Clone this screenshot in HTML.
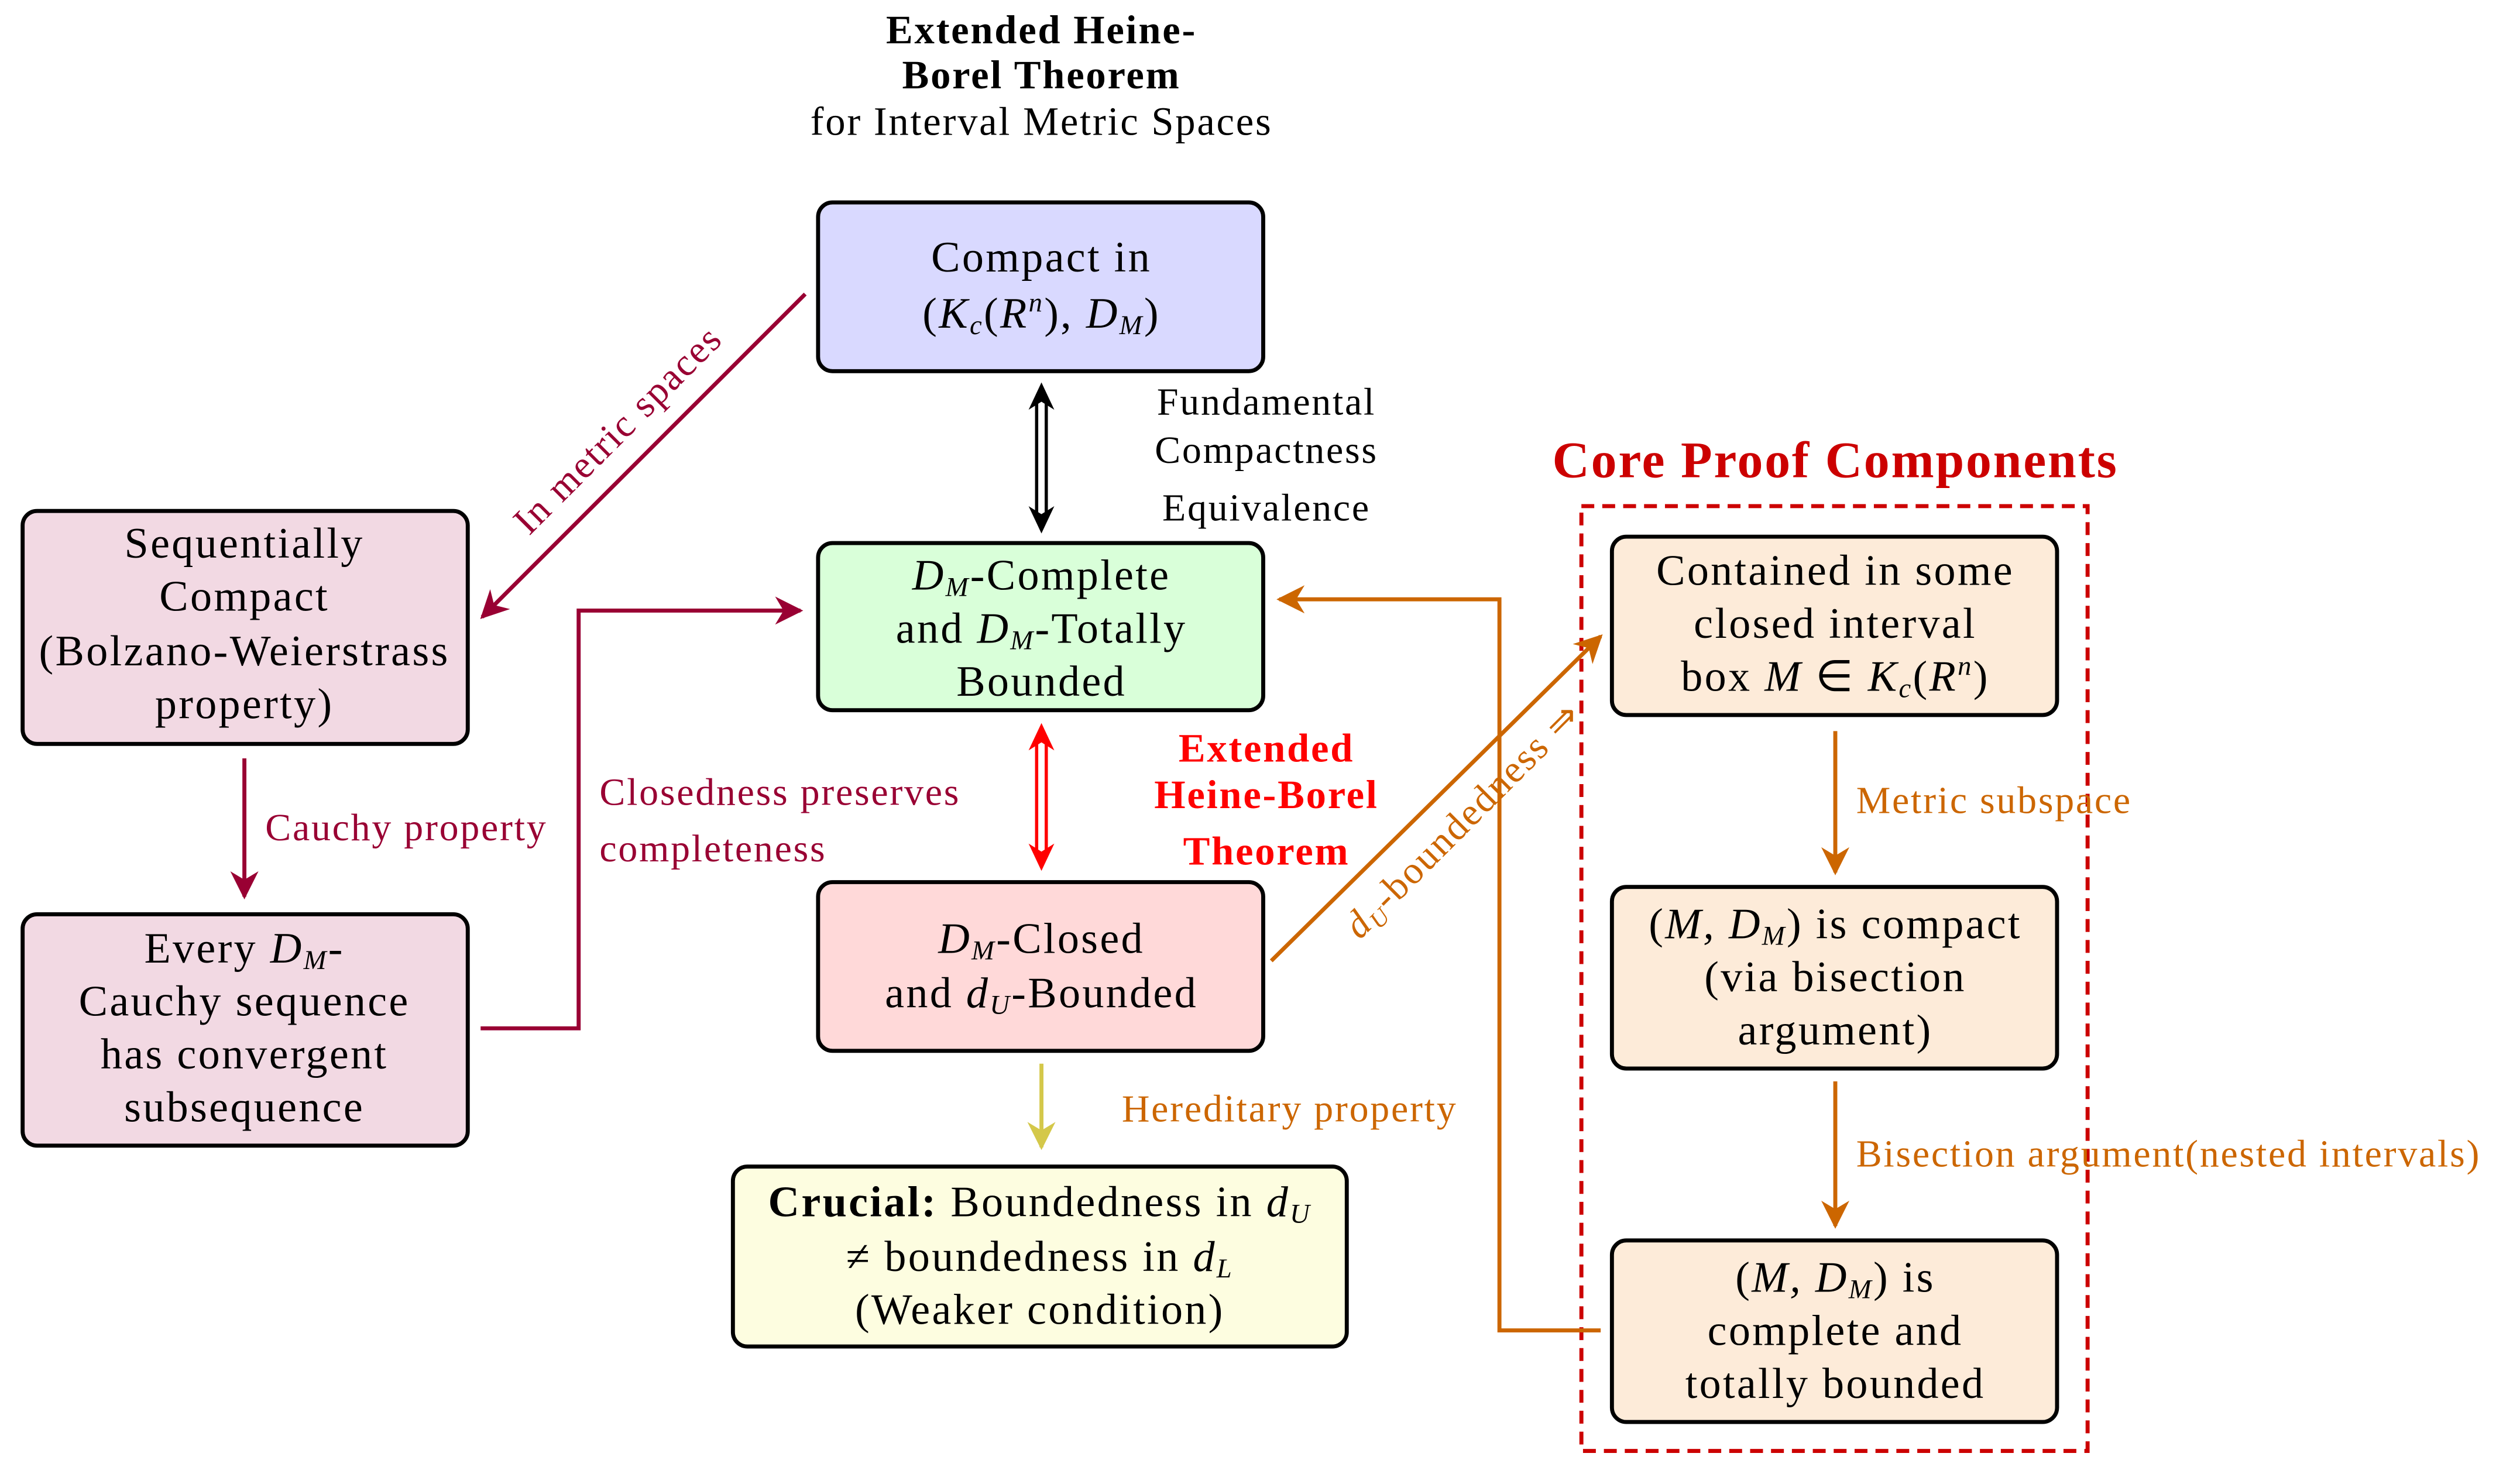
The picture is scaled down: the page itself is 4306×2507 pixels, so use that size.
<!DOCTYPE html>
<html><head><meta charset="utf-8"><style>
html,body{margin:0;padding:0;background:#fff;}
svg{display:block;}
text{font-family:"Liberation Serif",serif;}
</style></head><body>
<svg width="4306" height="2507" viewBox="0 0 1568 913" xmlns="http://www.w3.org/2000/svg">
<defs>
<marker id="am" viewBox="0 0 10 10" refX="9" refY="5" markerWidth="7" markerHeight="7" orient="auto-start-reverse"><path d="M0,0 L10,5 L0,10 L3,5 z" fill="#990033"/></marker>
<marker id="ao" viewBox="0 0 10 10" refX="9" refY="5" markerWidth="7" markerHeight="7" orient="auto-start-reverse"><path d="M0,0 L10,5 L0,10 L3,5 z" fill="#cc6600"/></marker>
<marker id="ay" viewBox="0 0 10 10" refX="9" refY="5" markerWidth="7" markerHeight="7" orient="auto-start-reverse"><path d="M0,0 L10,5 L0,10 L3,5 z" fill="#d4c84a"/></marker>
</defs>

<!-- title -->
<g text-anchor="middle" font-size="25" letter-spacing="1">
<text x="648" y="27" font-weight="bold">Extended Heine-</text>
<text x="648" y="55" font-weight="bold">Borel Theorem</text>
<text x="648" y="84">for Interval Metric Spaces</text>
</g>

<!-- dashed group -->
<rect x="984" y="315" width="315" height="588" fill="none" stroke="#cc0000" stroke-width="2.5" stroke-dasharray="8,5"/>
<text x="1142" y="297" text-anchor="middle" font-size="32" letter-spacing="1" font-weight="bold" fill="#cc0000">Core Proof Components</text>

<!-- boxes -->
<g stroke="#000" stroke-width="2.5">
<rect x="509" y="126" width="277" height="105" rx="9" fill="#d9d9ff"/>
<rect x="509" y="338" width="277" height="104" rx="9" fill="#d9ffd9"/>
<rect x="509" y="549" width="277" height="105" rx="9" fill="#ffd9d9"/>
<rect x="456" y="726" width="382" height="112" rx="9" fill="#fdfde0"/>
<rect x="14" y="318" width="277" height="145" rx="9" fill="#f2d9e3"/>
<rect x="14" y="569" width="277" height="144" rx="9" fill="#f2d9e3"/>
<rect x="1003" y="334" width="277" height="111" rx="9" fill="#fdebd9"/>
<rect x="1003" y="552" width="277" height="113" rx="9" fill="#fdebd9"/>
<rect x="1003" y="772" width="277" height="113" rx="9" fill="#fdebd9"/>
</g>

<g text-anchor="middle" font-size="27" letter-spacing="1.2">
<text x="648" y="169">Compact in</text>
<text x="648" y="204">(<tspan font-style="italic">K</tspan><tspan font-size="17" font-style="italic" dy="4">c</tspan><tspan dy="-4">(</tspan><tspan font-style="italic">R</tspan><tspan font-size="17" font-style="italic" dy="-10">n</tspan><tspan dy="10">), </tspan><tspan font-style="italic">D</tspan><tspan font-size="17" font-style="italic" dy="4">M</tspan><tspan dy="-4">)</tspan></text>

<text x="648" y="367"><tspan font-style="italic">D</tspan><tspan font-size="17" font-style="italic" dy="4">M</tspan><tspan dy="-4">-Complete</tspan></text>
<text x="648" y="400">and <tspan font-style="italic">D</tspan><tspan font-size="17" font-style="italic" dy="4">M</tspan><tspan dy="-4">-Totally</tspan></text>
<text x="648" y="433">Bounded</text>

<text x="648" y="593"><tspan font-style="italic">D</tspan><tspan font-size="17" font-style="italic" dy="4">M</tspan><tspan dy="-4">-Closed</tspan></text>
<text x="648" y="627">and <tspan font-style="italic">d</tspan><tspan font-size="17" font-style="italic" dy="4">U</tspan><tspan dy="-4">-Bounded</tspan></text>

<text x="647" y="757"><tspan font-weight="bold">Crucial:</tspan> Boundedness in <tspan font-style="italic">d</tspan><tspan font-size="17" font-style="italic" dy="4">U</tspan></text>
<text x="647" y="791">≠ boundedness in <tspan font-style="italic">d</tspan><tspan font-size="17" font-style="italic" dy="4">L</tspan></text>
<text x="647" y="824">(Weaker condition)</text>

<text x="152" y="347">Sequentially</text>
<text x="152" y="380">Compact</text>
<text x="152" y="414">(Bolzano-Weierstrass</text>
<text x="152" y="447">property)</text>

<text x="152" y="599">Every <tspan font-style="italic">D</tspan><tspan font-size="17" font-style="italic" dy="4">M</tspan><tspan dy="-4">-</tspan></text>
<text x="152" y="632">Cauchy sequence</text>
<text x="152" y="665">has convergent</text>
<text x="152" y="698">subsequence</text>

<text x="1142" y="364">Contained in some</text>
<text x="1142" y="397">closed interval</text>
<text x="1142" y="430">box <tspan font-style="italic">M</tspan> ∈ <tspan font-style="italic">K</tspan><tspan font-size="17" font-style="italic" dy="4">c</tspan><tspan dy="-4">(</tspan><tspan font-style="italic">R</tspan><tspan font-size="17" font-style="italic" dy="-10">n</tspan><tspan dy="10">)</tspan></text>

<text x="1142" y="584">(<tspan font-style="italic">M, D</tspan><tspan font-size="17" font-style="italic" dy="4">M</tspan><tspan dy="-4">) is compact</tspan></text>
<text x="1142" y="617">(via bisection</text>
<text x="1142" y="650">argument)</text>

<text x="1142" y="804">(<tspan font-style="italic">M, D</tspan><tspan font-size="17" font-style="italic" dy="4">M</tspan><tspan dy="-4">) is</tspan></text>
<text x="1142" y="837">complete and</text>
<text x="1142" y="870">totally bounded</text>
</g>

<!-- double arrows -->
<g fill="none" stroke-width="2">
<line x1="645" y1="250" x2="645" y2="320" stroke="#000"/>
<line x1="651" y1="250" x2="651" y2="320" stroke="#000"/>
<line x1="645" y1="462" x2="645" y2="530" stroke="#ff0000"/>
<line x1="651" y1="462" x2="651" y2="530" stroke="#ff0000"/>
</g>
<path d="M648,238 l-8,17 l8,-5 l8,5 z M648,332 l-8,-17 l8,5 l8,-5 z" fill="#000"/>
<path d="M648,450 l-8,17 l8,-5 l8,5 z M648,542 l-8,-17 l8,5 l8,-5 z" fill="#ff0000"/>

<g text-anchor="middle" font-size="24" letter-spacing="1">
<text x="788" y="258">Fundamental</text>
<text x="788" y="288">Compactness</text>
<text x="788" y="324">Equivalence</text>
</g>
<g text-anchor="middle" font-size="25" letter-spacing="1" font-weight="bold" fill="#ff0000">
<text x="788" y="474">Extended</text>
<text x="788" y="503">Heine-Borel</text>
<text x="788" y="538">Theorem</text>
</g>

<!-- other arrows -->
<g fill="none" stroke-width="2.5">
<line x1="648" y1="662" x2="648" y2="714" stroke="#d4c84a" marker-end="url(#ay)"/>
<line x1="501" y1="183" x2="300" y2="384" stroke="#990033" marker-end="url(#am)"/>
<line x1="152" y1="472" x2="152" y2="558" stroke="#990033" marker-end="url(#am)"/>
<polyline points="299,640 360,640 360,380 498,380" stroke="#990033" marker-end="url(#am)"/>
<polyline points="996,828 933,828 933,373 796,373" stroke="#cc6600" marker-end="url(#ao)"/>
<line x1="791" y1="598" x2="996" y2="396" stroke="#cc6600" marker-end="url(#ao)"/>
<line x1="1142" y1="455" x2="1142" y2="543" stroke="#cc6600" marker-end="url(#ao)"/>
<line x1="1142" y1="673" x2="1142" y2="763" stroke="#cc6600" marker-end="url(#ao)"/>
</g>

<g font-size="24" letter-spacing="1">
<text x="385" y="275" fill="#990033" text-anchor="middle" transform="rotate(-45 385 268)">In metric spaces</text>
<text x="165" y="523" fill="#990033">Cauchy property</text>
<text x="373" y="501" fill="#990033">Closedness preserves</text>
<text x="373" y="536" fill="#990033">completeness</text>
<text x="698" y="698" fill="#cc6600">Hereditary property</text>
<text x="910" y="518" fill="#cc6600" text-anchor="middle" transform="rotate(-45 910 510)"><tspan font-style="italic">d</tspan><tspan font-size="15" font-style="italic" dy="4">U</tspan><tspan dy="-4">-boundedness ⇒</tspan></text>
<text x="1155" y="506" fill="#cc6600">Metric subspace</text>
<text x="1155" y="726" fill="#cc6600">Bisection argument(nested intervals)</text>
</g>
</svg>
</body></html>
